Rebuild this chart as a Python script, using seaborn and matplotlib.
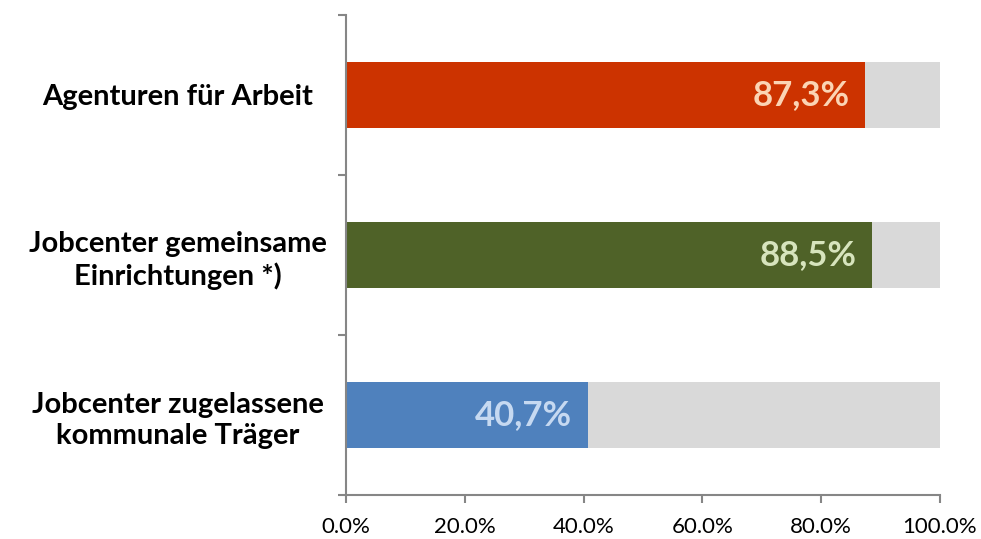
import matplotlib
matplotlib.use("Agg")
import matplotlib.pyplot as plt
import seaborn as sns
import pandas as pd
from matplotlib.ticker import FixedLocator

categories = ["Agenturen für Arbeit", "Jobcenter gemeinsame\nEinrichtungen *)", "Jobcenter zugelassene\nkommunale Träger"]
values = [87.3, 88.5, 40.7]
value_labels = ["87,3%", "88,5%", "40,7%"]
totals = [100.0, 100.0, 100.0]
x_ticks = [0, 20, 40, 60, 80, 100]
x_tick_labels = ["0.0%", "20.0%", "40.0%", "60.0%", "80.0%", "100.0%"]

bar_colors = ["#CC3300", "#4F6228", "#4F81BD"]
label_colors = ["#FBD4B4", "#D7E4BD", "#C6D9F1"]

sns.set_theme(style="white")
plt.rcParams["font.family"] = ["Lato", "DejaVu Sans"]

df = pd.DataFrame({"cat": categories, "val": values, "tot": totals})

fig = plt.figure(figsize=(9.81, 5.39), dpi=100)
ax = fig.add_axes([0.3527, 0.0816, 0.6055, 0.8906])

sns.barplot(data=df, x="tot", y="cat", orient="h", color="#D9D9D9", width=0.41, ax=ax,
            saturation=1, linewidth=0)
sns.barplot(data=df, x="val", y="cat", orient="h", hue="cat", palette=bar_colors, width=0.41, ax=ax,
            saturation=1, legend=False, linewidth=0)

for i, (v, lab, c) in enumerate(zip(values, value_labels, label_colors)):
    ax.annotate(lab, xy=(v, i), xytext=(-11, 0), textcoords="offset points",
                ha="right", va="center", color=c, fontsize=25, fontweight="bold")

ax.set_xlim(0, 100)
ax.set_ylim(2.5, -0.5)
ax.set_xlabel("")
ax.set_ylabel("")
ax.set_xticks(x_ticks)
ax.set_xticklabels(x_tick_labels, fontsize=16, color="#000000")
ax.yaxis.set_minor_locator(FixedLocator([-0.5, 0.5, 1.5, 2.5]))
ax.tick_params(axis="y", which="major", length=0, labelsize=21, labelcolor="#000000")
ax.tick_params(axis="y", which="minor", length=6, width=1.5, color="#868686", left=True)
ax.tick_params(axis="x", which="major", length=6, width=1.5, color="#868686", bottom=True, pad=10)

for s in ["top", "right"]:
    ax.spines[s].set_visible(False)
for s in ["left", "bottom"]:
    ax.spines[s].set_color("#868686")
    ax.spines[s].set_linewidth(1.5)

fig.canvas.draw()
for t in ax.get_yticklabels():
    t.set_fontweight("bold")
    t.set_horizontalalignment("center")
    t.set_multialignment("center")
    t.set_linespacing(1.25)
    t.set_x(-0.283)
    t.set_transform(ax.get_yaxis_transform())

fig.savefig("out.png", dpi=100)
